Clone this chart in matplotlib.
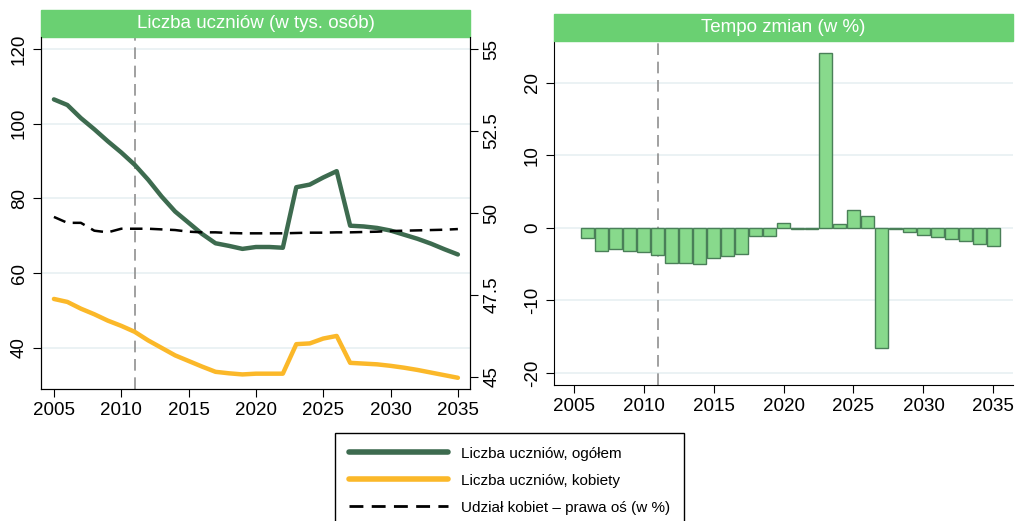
import numpy as np
import matplotlib.pyplot as plt
from matplotlib.patches import Rectangle

plt.rcParams['font.family'] = ['Liberation Sans', 'DejaVu Sans']
plt.rcParams['axes.unicode_minus'] = False

# dane
lata = list(range(2005, 2036))
ogolem = [106.5, 105.0, 101.5, 98.5, 95.3, 92.3, 89.0, 85.0, 80.5, 76.5, 73.5,
          70.5, 68.0, 67.3, 66.5, 67.0, 67.0, 66.8, 83.0, 83.7, 85.6, 87.3,
          72.7, 72.5, 72.1, 71.4, 70.3, 69.2, 67.9, 66.4, 65.0]
kobiety = [53.1, 52.3, 50.5, 49.0, 47.3, 45.9, 44.3, 42.0, 40.0, 38.0, 36.5,
           35.0, 33.6, 33.2, 32.9, 33.1, 33.1, 33.1, 41.0, 41.2, 42.5, 43.2,
           36.0, 35.8, 35.6, 35.2, 34.7, 34.1, 33.4, 32.7, 32.0]
udzial = [49.88, 49.70, 49.70, 49.46, 49.41, 49.52, 49.52, 49.52, 49.50, 49.48, 49.43,
          49.41, 49.41, 49.39, 49.38, 49.38, 49.38, 49.38, 49.39, 49.40, 49.40, 49.41,
          49.41, 49.42, 49.43, 49.45, 49.46, 49.47, 49.48, 49.49, 49.51]
lata_zm = list(range(2006, 2036))
tempo = [-1.4, -3.2, -2.9, -3.2, -3.3, -3.7, -4.9, -4.8, -5.0, -4.1, -3.9, -3.6,
         -1.1, -1.1, 0.7, -0.1, -0.1, 24.1, 0.5, 2.4, 1.6, -16.6, -0.2, -0.6,
         -1.0, -1.2, -1.5, -1.8, -2.2, -2.5]

zielony = '#3d6b4f'
zolty = '#fbb829'
pasek = '#6ad072'
siatka = '#e8f0f2'
fs = 13.5

fig = plt.figure(figsize=(10.19, 5.21), dpi=100)

def naglowek(ax, tekst, h):
    ax.add_patch(Rectangle((0, 1), 1, h, transform=ax.transAxes, color=pasek,
                           clip_on=False, zorder=5))
    ax.text(0.5, 1 + h / 2, tekst, transform=ax.transAxes, ha='center', va='center',
            color='white', fontsize=fs, zorder=6)

# lewy panel
ax1 = fig.add_axes([41 / 1019, 1 - 389 / 521, 429 / 1019, 352 / 521])
ax1.plot(lata, ogolem, color=zielony, lw=3.2, solid_capstyle='round', zorder=3)
ax1.plot(lata, kobiety, color=zolty, lw=3.2, solid_capstyle='round', zorder=3)
ax1.axvline(2011, color='#909090', lw=1.2, dashes=(7, 4), zorder=2)
ax1.set_xlim(2004.04, 2035.9)
ax1.set_ylim(29.0, 123.2)
ax1.set_yticks([40, 60, 80, 100, 120])
ax1.set_xticks(range(2005, 2036, 5))
ax1.grid(axis='y', color=siatka, lw=1.2)
ax1.set_axisbelow(True)
ax1.spines['top'].set_visible(False)
ax1.tick_params(axis='y', labelrotation=90, labelsize=fs, length=6)
ax1.tick_params(axis='x', labelsize=fs, length=6)
for t in ax1.get_yticklabels():
    t.set_va('center')
naglowek(ax1, 'Liczba uczniów (w tys. osób)', 27 / 352)

ax1b = ax1.twinx()
ax1b.plot(lata, udzial, color='black', lw=1.8, dashes=(5, 3), zorder=3)
ax1b.set_ylim(44.63, 55.37)
ax1b.set_yticks([45, 47.5, 50, 52.5, 55])
ax1b.set_yticklabels(['45', '47.5', '50', '52.5', '55'])
ax1b.spines['top'].set_visible(False)
ax1b.tick_params(axis='y', labelrotation=90, labelsize=fs, length=6)
for t in ax1b.get_yticklabels():
    t.set_va('center')

# prawy panel
ax2 = fig.add_axes([554 / 1019, 1 - 385 / 521, 459 / 1019, 344 / 521])
ax2.bar(lata_zm, tempo, width=0.95, color='#88d98c', edgecolor='#4a7f58', lw=1, zorder=3)
ax2.axvline(2011, color='#909090', lw=1.2, dashes=(7, 4), zorder=2)
ax2.set_xlim(2003.6, 2036.4)
ax2.set_ylim(-21.66, 25.75)
ax2.set_yticks([-20, -10, 0, 10, 20])
ax2.set_xticks(range(2005, 2036, 5))
ax2.grid(axis='y', color=siatka, lw=1.2)
ax2.set_axisbelow(True)
ax2.spines['top'].set_visible(False)
ax2.spines['right'].set_visible(False)
ax2.tick_params(axis='y', labelrotation=90, labelsize=fs, length=6)
ax2.tick_params(axis='x', labelsize=fs, length=6)
for t in ax2.get_yticklabels():
    t.set_va('center')
naglowek(ax2, 'Tempo zmian (w %)', 27 / 344)

# legenda
h1, = ax1.plot([], [], color=zielony, lw=4, solid_capstyle='round')
h2, = ax1.plot([], [], color=zolty, lw=4, solid_capstyle='round')
h3, = ax1.plot([], [], color='black', lw=2, dashes=(5, 3))
leg = fig.legend([h1, h2, h3],
                 ['Liczba uczniów, ogółem', 'Liczba uczniów, kobiety',
                  'Udział kobiet – prawa oś (w %)'],
                 loc='upper left', bbox_to_anchor=(335 / 1019, 1 - 433 / 521),
                 fontsize=11, handlelength=6.5, fancybox=False, edgecolor='black',
                 framealpha=1, borderaxespad=0, labelspacing=0.85, handletextpad=0.85,
                 borderpad=0.9)
leg.get_frame().set_linewidth(1)

fig.savefig('out.png', dpi=100)
